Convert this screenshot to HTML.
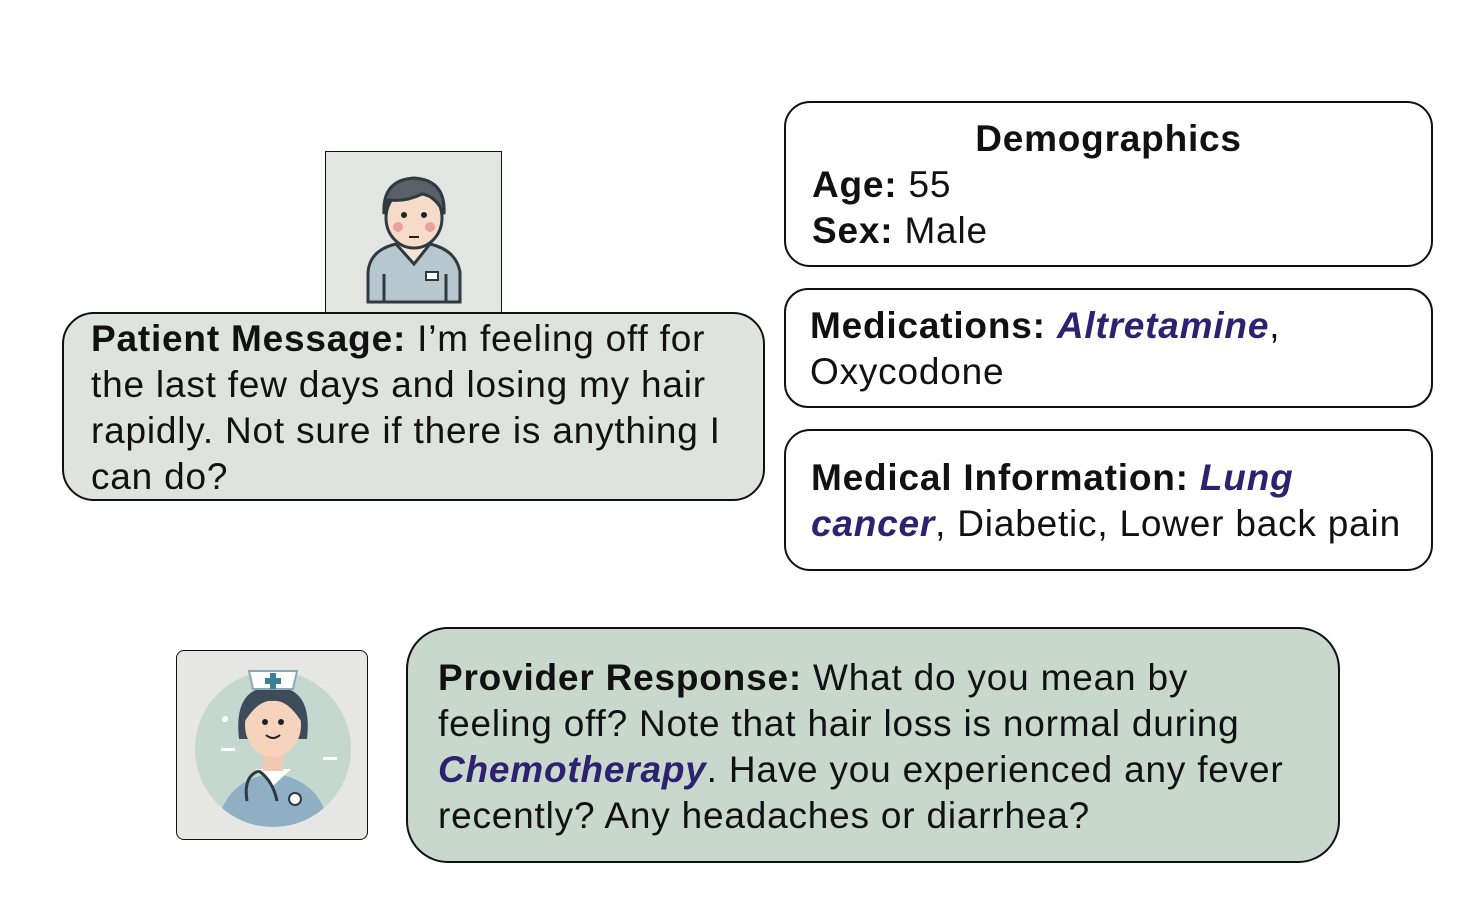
<!DOCTYPE html>
<html><head><meta charset="utf-8"><style>
body{margin:0;width:1472px;height:898px;background:#fff;position:relative;overflow:hidden;font-family:"Liberation Sans",Arial,sans-serif;color:#111}
.box{position:absolute;box-sizing:border-box;border:2px solid #111;}
.t{position:absolute;font-size:37px;line-height:46px;white-space:nowrap;letter-spacing:0.8px}
b{font-weight:bold}
.p{color:#2d2170;font-weight:bold;font-style:italic}
</style></head><body>

<div class="box" style="left:325px;top:151px;width:177px;height:162px;background:#e3e5e2;border-width:1.5px;">
<svg width="174" height="160" viewBox="0 0 174 160">
<path d="M42 150 L42 120 Q44 98 70 92 L104 92 Q130 98 134 120 L134 150 Z" fill="#b8c6cf" stroke="#2f3a40" stroke-width="3"/>
<path d="M70 92 L88 112 L104 92" fill="#f6e4d8" stroke="#2f3a40" stroke-width="3"/>
<line x1="58" y1="122" x2="58" y2="150" stroke="#2f3a40" stroke-width="3"/>
<line x1="120" y1="122" x2="120" y2="150" stroke="#2f3a40" stroke-width="3"/>
<rect x="100" y="120" width="12" height="8" fill="#fff" stroke="#2f3a40" stroke-width="2"/>
<rect x="79" y="78" width="18" height="18" fill="#f3d8c4"/>
<ellipse cx="88" cy="66" rx="28" ry="30" fill="#f6dcc8" stroke="#2f3a40" stroke-width="3"/>
<path d="M58 62 Q56 28 88 26 Q120 28 118 62 Q110 44 96 42 Q80 50 62 48 Z" fill="#5a6068" stroke="#2f3a40" stroke-width="3"/>
<circle cx="78" cy="63" r="3" fill="#222"/><circle cx="98" cy="63" r="3" fill="#222"/>
<circle cx="72" cy="75" r="5" fill="#e9a0a0"/><circle cx="104" cy="75" r="5" fill="#e9a0a0"/>
<line x1="83" y1="85" x2="93" y2="85" stroke="#222" stroke-width="2"/>
</svg></div>

<div class="box" style="left:62px;top:312px;width:703px;height:189px;background:#dfe3df;border-radius:32px;"></div>
<div class="t" style="left:91px;top:316px;"><b>Patient Message:</b> I’m feeling off for<br>the last few days and losing my hair<br>rapidly. Not sure if there is anything I<br>can do?</div>

<div class="box" style="left:784px;top:101px;width:649px;height:166px;background:#fff;border-radius:26px;"></div>
<div class="t" style="left:784px;width:649px;text-align:center;top:116px;"><b>Demographics</b></div>
<div class="t" style="left:812px;top:162px;"><b>Age:</b> 55<br><b>Sex:</b> Male</div>

<div class="box" style="left:784px;top:288px;width:649px;height:120px;background:#fff;border-radius:24px;"></div>
<div class="t" style="left:810px;top:303px;"><b>Medications:</b> <span class="p">Altretamine</span>,<br>Oxycodone</div>

<div class="box" style="left:784px;top:429px;width:649px;height:142px;background:#fff;border-radius:26px;"></div>
<div class="t" style="left:811px;top:455px;"><b>Medical Information:</b> <span class="p">Lung</span><br><span class="p">cancer</span>, Diabetic, Lower back pain</div>

<div class="box" style="left:176px;top:650px;width:192px;height:190px;background:#e6e6e4;border-width:1.5px;border-radius:8px;overflow:hidden;">
<svg width="189" height="187" viewBox="0 0 189 187">
<defs><clipPath id="c"><circle cx="96" cy="98" r="78"/></clipPath></defs>
<circle cx="96" cy="98" r="78" fill="#c5d8d0"/>
<g clip-path="url(#c)">
<path d="M40 180 Q44 130 96 122 Q148 130 152 180 Z" fill="#8fb0c4"/>
<path d="M78 118 L96 135 L114 118 Z" fill="#fff"/>
</g>
<path d="M62 88 Q56 35 96 36 Q136 35 130 88 Z" fill="#3e4b58"/>
<rect x="86" y="95" width="20" height="25" fill="#f2c9b2"/>
<ellipse cx="96" cy="74" rx="28" ry="32" fill="#f6d3bd"/>
<path d="M68 70 Q70 40 96 40 Q122 40 124 70 Q110 48 96 50 Q82 48 68 70 Z" fill="#3e4b58"/>
<path d="M72 20 L120 20 L116 38 L76 38 Z" fill="#fff" stroke="#8aa8b8" stroke-width="2"/>
<path d="M93 22 h6 v5 h5 v6 h-5 v5 h-6 v-5 h-5 v-6 h5z" fill="#3f7f96"/>
<circle cx="88" cy="71" r="3" fill="#222"/><circle cx="104" cy="71" r="3" fill="#222"/>
<path d="M89 84 Q96 90 103 84" stroke="#222" stroke-width="2" fill="none"/>
<path d="M82 120 Q66 125 70 150 M82 120 Q96 130 100 150" stroke="#2f3a40" stroke-width="3" fill="none"/>
<circle cx="118" cy="148" r="6" fill="#fff" stroke="#2f3a40" stroke-width="2"/>
<circle cx="48" cy="68" r="3" fill="#fff"/><rect x="44" y="97" width="14" height="3" fill="#fff"/><rect x="146" y="106" width="14" height="3" fill="#fff"/>
</svg></div>

<div class="box" style="left:406px;top:627px;width:934px;height:236px;background:#c8d8cc;border-radius:42px;"></div>
<div class="t" style="left:438px;top:655px;"><b>Provider Response:</b> What do you mean by<br>feeling off? Note that hair loss is normal during<br><span class="p">Chemotherapy</span>. Have you experienced any fever<br>recently? Any headaches or diarrhea?</div>

</body></html>
